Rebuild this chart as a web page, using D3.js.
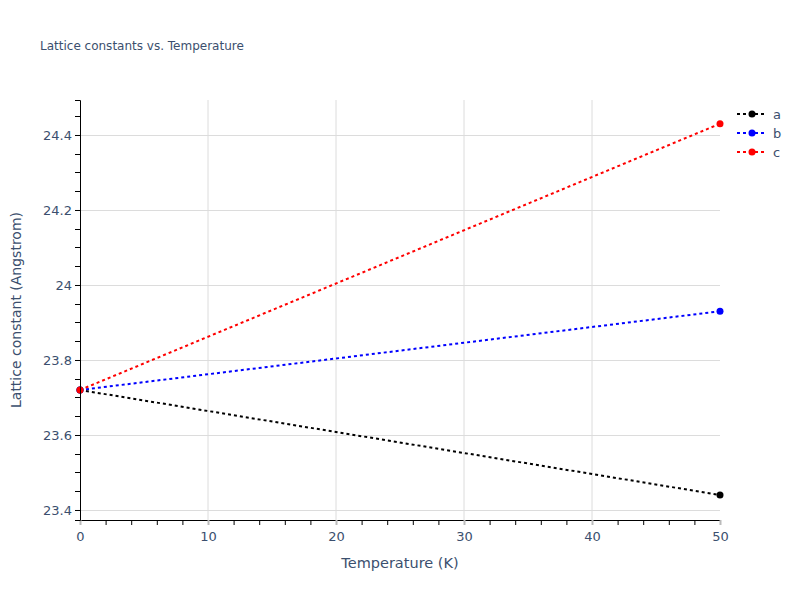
<!DOCTYPE html>
<html>
<head>
<meta charset="utf-8">
<script src="https://cdn.jsdelivr.net/npm/d3@7"></script>
<style>
body{margin:0;background:#fff;}
text{font-family:"DejaVu Sans", Verdana, sans-serif;}
</style>
</head>
<body>
<svg id="chart" width="800" height="600"></svg>
<script>
const temperatures = [0, 50];
const seriesNames = ["a", "b", "c"];
const seriesColors = ["#000000", "#0000ff", "#ff0000"];
const aValues = [23.72, 23.44];
const bValues = [23.72, 23.93];
const cValues = [23.72, 24.43];
const xTicks = [0, 10, 20, 30, 40, 50];
const yTicks = [23.4, 23.6, 23.8, 24.0, 24.2, 24.4];
const yTickLabels = ["23.4", "23.6", "23.8", "24", "24.2", "24.4"];

const series = [aValues, bValues, cValues];
const svg = d3.select("#chart");
const m = {l: 80, r: 80, t: 100, b: 80};
const W = 800, H = 600;
const x = d3.scaleLinear().domain([0, 50]).range([m.l, W - m.r]);
const y = d3.scaleLinear().domain([23.37333, 24.49333]).range([H - m.b, m.t]);
const txt = "#3b4f6e";

// grid
const g = svg.append("g");
g.selectAll(".vg").data(xTicks.filter(t => t > 0 && t < 50)).enter().append("line")
  .attr("x1", d => x(d)).attr("x2", d => x(d)).attr("y1", m.t).attr("y2", H - m.b)
  .attr("stroke", "#dcdcdc").attr("stroke-width", 1);
g.selectAll(".hg").data(yTicks).enter().append("line")
  .attr("x1", m.l).attr("x2", W - m.r).attr("y1", d => Math.round(y(d)) + 0.5).attr("y2", d => Math.round(y(d)) + 0.5)
  .attr("stroke", "#dcdcdc").attr("stroke-width", 1);

// lines
svg.append("clipPath").attr("id", "clip").append("rect")
  .attr("x", m.l).attr("y", m.t).attr("width", W - m.l - m.r).attr("height", H - m.t - m.b);
const line = d3.line().x((d, i) => x(temperatures[i])).y(d => y(d));
series.forEach((vals, k) => {
  svg.append("path").datum(vals).attr("d", line).attr("fill", "none")
    .attr("stroke", seriesColors[k]).attr("stroke-width", 2).attr("stroke-dasharray", "3,3")
    .attr("clip-path", "url(#clip)");
});
series.forEach((vals, k) => {
  svg.selectAll(null).data(vals).enter().append("circle")
    .attr("cx", (d, i) => x(temperatures[i])).attr("cy", d => y(d)).attr("r", 3.5)
    .attr("fill", seriesColors[k]);
});

// axes
const xAxis = d3.axisBottom(x).tickValues(xTicks).tickSize(5).tickPadding(5).tickFormat(d3.format("d"));
const xa = svg.append("g").attr("transform", `translate(0,${H - m.b})`).call(xAxis);
xa.select(".domain").attr("stroke", "#000");
xa.selectAll(".tick line").attr("stroke", "#bbb").attr("stroke-width", 2);
xa.selectAll("text").attr("fill", txt).style("font-size", "13px").attr("dy", "0.85em");
const xMinor = d3.range(0, 51, 2).filter(v => v % 10 !== 0);
svg.append("g").selectAll("line").data(xMinor).enter().append("line")
  .attr("x1", d => x(d) + 0.5).attr("x2", d => x(d) + 0.5).attr("y1", H - m.b).attr("y2", H - m.b + 5)
  .attr("stroke", "#000");

const yAxis = d3.axisLeft(y).tickValues(yTicks).tickSize(5).tickPadding(3).tickFormat((d, i) => yTickLabels[i]);
const ya = svg.append("g").attr("transform", `translate(${m.l},0)`).call(yAxis);
ya.select(".domain").attr("stroke", "#000");
ya.selectAll(".tick line").attr("stroke", "#000");
ya.selectAll("text").attr("fill", txt).style("font-size", "13px");
const yMinor = d3.range(23.40, 24.48, 0.05).filter(v => Math.abs(Math.round(v * 5) - v * 5) > 0.01);
svg.append("g").selectAll("line").data(yMinor).enter().append("line")
  .attr("x1", m.l - 5).attr("x2", m.l).attr("y1", d => Math.round(y(d)) + 0.5).attr("y2", d => Math.round(y(d)) + 0.5)
  .attr("stroke", "#000");

// titles
svg.append("text").attr("x", 40).attr("y", 50).text("Lattice constants vs. Temperature")
  .attr("fill", txt).style("font-size", "12px");
svg.append("text").attr("x", (m.l + W - m.r) / 2).attr("y", 568).attr("text-anchor", "middle")
  .text("Temperature (K)").attr("fill", txt).style("font-size", "14.5px");
svg.append("text").attr("transform", `translate(21,${(m.t + H - m.b) / 2}) rotate(-90)`).attr("text-anchor", "middle")
  .text("Lattice constant (Angstrom)").attr("fill", txt).style("font-size", "14px");

// legend
const lg = svg.append("g").attr("transform", "translate(737,114)");
seriesNames.forEach((n, k) => {
  const row = lg.append("g").attr("transform", `translate(0,${k * 19})`);
  row.append("line").attr("x1", 0).attr("x2", 30).attr("y1", 0).attr("y2", 0)
    .attr("stroke", seriesColors[k]).attr("stroke-width", 2).attr("stroke-dasharray", "3,3");
  row.append("circle").attr("cx", 15).attr("cy", 0).attr("r", 3.5).attr("fill", seriesColors[k]);
  row.append("text").attr("x", 36).attr("y", 4.5).text(n).attr("fill", txt).style("font-size", "13px");
});
</script>
</body>
</html>
